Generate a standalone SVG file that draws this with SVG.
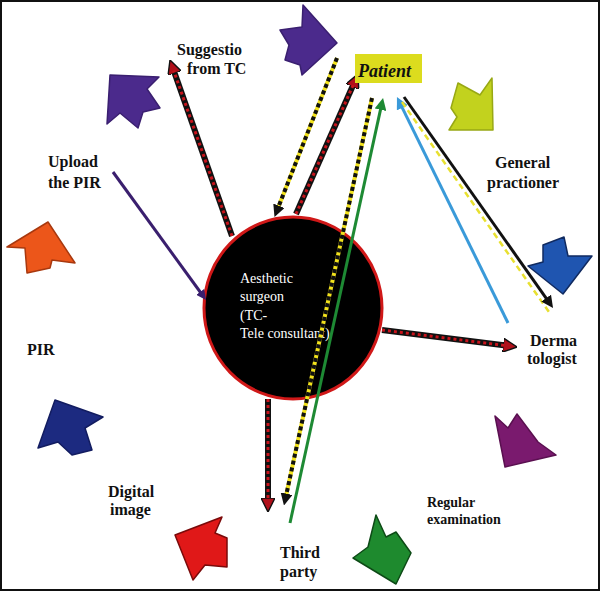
<svg xmlns="http://www.w3.org/2000/svg" width="600" height="591" viewBox="0 0 600 591">
<style>
.lbl{font-family:"Liberation Serif","Times New Roman",serif;font-weight:bold;font-size:16px;fill:#111}
.small{font-size:14px}
.inner{font-family:"Liberation Serif","Times New Roman",serif;font-size:14px;fill:#fff}
.rb{fill:none;stroke:#111;stroke-width:6}
.rd{fill:none;stroke:#c8141c;stroke-width:3;stroke-dasharray:3 3}
.yb{fill:none;stroke:#f2e21c;stroke-width:4}
.yd{fill:none;stroke:#111;stroke-width:4;stroke-dasharray:4 3}
.blk{stroke-linejoin:round;stroke-width:1.5}
</style>
<defs>
<marker id="mRed" viewBox="0 0 10 10" refX="2" refY="5" markerWidth="14" markerHeight="14" markerUnits="userSpaceOnUse" orient="auto">
<path d="M0,0 L10,5 L0,10 Z" fill="#b0101a" stroke="#111" stroke-width="1"/>
</marker>
<marker id="mPur" viewBox="0 0 10 10" refX="2" refY="5" markerWidth="10" markerHeight="10" markerUnits="userSpaceOnUse" orient="auto">
<path d="M0,0 L10,5 L0,10 Z" fill="#3a1f6e"/>
</marker>
<marker id="mGrn" viewBox="0 0 10 10" refX="2" refY="5" markerWidth="12" markerHeight="12" markerUnits="userSpaceOnUse" orient="auto">
<path d="M0,0 L10,5 L0,10 Z" fill="#1e8a34"/>
</marker>
<marker id="mBlu" viewBox="0 0 10 10" refX="2" refY="5" markerWidth="12" markerHeight="12" markerUnits="userSpaceOnUse" orient="auto">
<path d="M0,0 L10,5 L0,10 Z" fill="#3a9ad9"/>
</marker>
<marker id="mBlk" viewBox="0 0 10 10" refX="2" refY="5" markerWidth="12" markerHeight="12" markerUnits="userSpaceOnUse" orient="auto">
<path d="M0,0 L10,5 L0,10 Z" fill="#111"/>
</marker>
</defs>
<rect x="0" y="0" width="600" height="591" fill="#fff"/>
<rect x="1" y="1" width="598" height="589" fill="none" stroke="#111" stroke-width="2"/>

<g id="block-arrows">
<polygon class="blk" points="303,5 337,43 302,75 300,65 285,60 289,45 280,30 302,27" fill="#4b2a8c" stroke="#3a1f70"/>
<polygon class="blk" points="110,75 107,124 120,113 138,128 143,112 160,108 147,89 159,77" fill="#4b2a8c" stroke="#3a1f70"/>
<polygon class="blk" points="48,222 7,247 25,248 27,273 50,268 52,260 75,263" fill="#ec561a" stroke="#a8380e"/>
<polygon class="blk" points="55,400 103,417 85,428 92,450 72,455 58,442 38,448" fill="#1c2a80" stroke="#121c60"/>
<polygon class="blk" points="458,83 480,95 492,78 493,130 449,130 457,117 451,108" fill="#c2d21e" stroke="#98a814"/>
<polygon class="blk" points="528,266 543,262 543,245 564,237 568,256 592,256 563,294" fill="#1f55b0" stroke="#102a60"/>
<polygon class="blk" points="495,416 508,428 517,414 538,442 556,455 505,467" fill="#7a1a6e" stroke="#5a1050"/>
<polygon class="blk" points="175,535 222,517 215,533 227,538 227,567 205,565 193,580" fill="#e01818" stroke="#7a0a0a"/>
<polygon class="blk" points="376,515 386,537 396,532 411,553 396,584 353,558 368,547" fill="#1e8a2e" stroke="#0d4a16"/>
</g>

<g id="surgeon">
<ellipse cx="293" cy="308" rx="89" ry="91" fill="#000" stroke="#d01818" stroke-width="3"/>
<text class="inner" x="240" y="283">Aesthetic</text>
<text class="inner" x="240" y="301">surgeon</text>
<text class="inner" x="240" y="320">(TC-</text>
<text class="inner" x="240" y="338">Tele consultant)</text>
</g>

<g id="connectors">
<path class="rb" d="M232,236 L173.7,70.6" marker-end="url(#mRed)"/>
<path class="rd" d="M232,236 L173.7,70.6"/>
<path class="rb" d="M296,214 L353.5,84.2" marker-end="url(#mRed)"/>
<path class="rd" d="M296,214 L353.5,84.2"/>
<path class="rb" d="M382,330 L505.9,345.6" marker-end="url(#mRed)"/>
<path class="rd" d="M382,330 L505.9,345.6"/>
<path class="rb" d="M268,399 L268,500.8" marker-end="url(#mRed)"/>
<path class="rd" d="M268,399 L268,500.8"/>
<path class="yb" d="M337,58 L278,208" marker-end="url(#mBlk)"/>
<path class="yd" d="M337,58 L278,208"/>
<path class="yb" d="M372,98 L286,496" marker-end="url(#mBlk)"/>
<path class="yd" d="M372,98 L286,496"/>
<path d="M290,523 L381,107.4" fill="none" stroke="#1e8a34" stroke-width="3" marker-end="url(#mGrn)"/>
<path d="M508,323 L401.2,105.6" fill="none" stroke="#3a9ad9" stroke-width="3" marker-end="url(#mBlu)"/>
<path d="M402,102 L549,312" fill="none" stroke="#e8e030" stroke-width="2.5" stroke-dasharray="6 4"/>
<path d="M404,97 L547.5,300.1" fill="none" stroke="#111" stroke-width="3" marker-end="url(#mBlk)"/>
<path d="M113,172 L201.3,293.5" fill="none" stroke="#3a1f6e" stroke-width="3" marker-end="url(#mPur)"/>
</g>

<g id="patient">
<rect x="355" y="54" width="67" height="29" fill="#dcdc1e"/>
<text x="358" y="77" font-family="Liberation Serif, serif" font-weight="bold" font-style="italic" font-size="18" fill="#111">Patient</text>
</g>
<g id="suggestion"><text class="lbl" x="177" y="55">Suggestio</text><text class="lbl" x="187" y="74">from TC</text></g>
<g id="upload"><text class="lbl" x="48" y="167">Upload</text><text class="lbl" x="48" y="188">the PIR</text></g>
<g id="pir"><text class="lbl" x="27" y="355">PIR</text></g>
<g id="general"><text class="lbl" x="495" y="168">General</text><text class="lbl" x="487" y="188">practioner</text></g>
<g id="derma"><text class="lbl" x="530" y="346">Derma</text><text class="lbl" x="527" y="364">tologist</text></g>
<g id="digital"><text class="lbl" x="108" y="497">Digital</text><text class="lbl" x="110" y="515">image</text></g>
<g id="third"><text class="lbl" x="280" y="558">Third</text><text class="lbl" x="280" y="577">party</text></g>
<g id="regular"><text class="lbl small" x="427" y="507">Regular</text><text class="lbl small" x="427" y="524">examination</text></g>
</svg>
